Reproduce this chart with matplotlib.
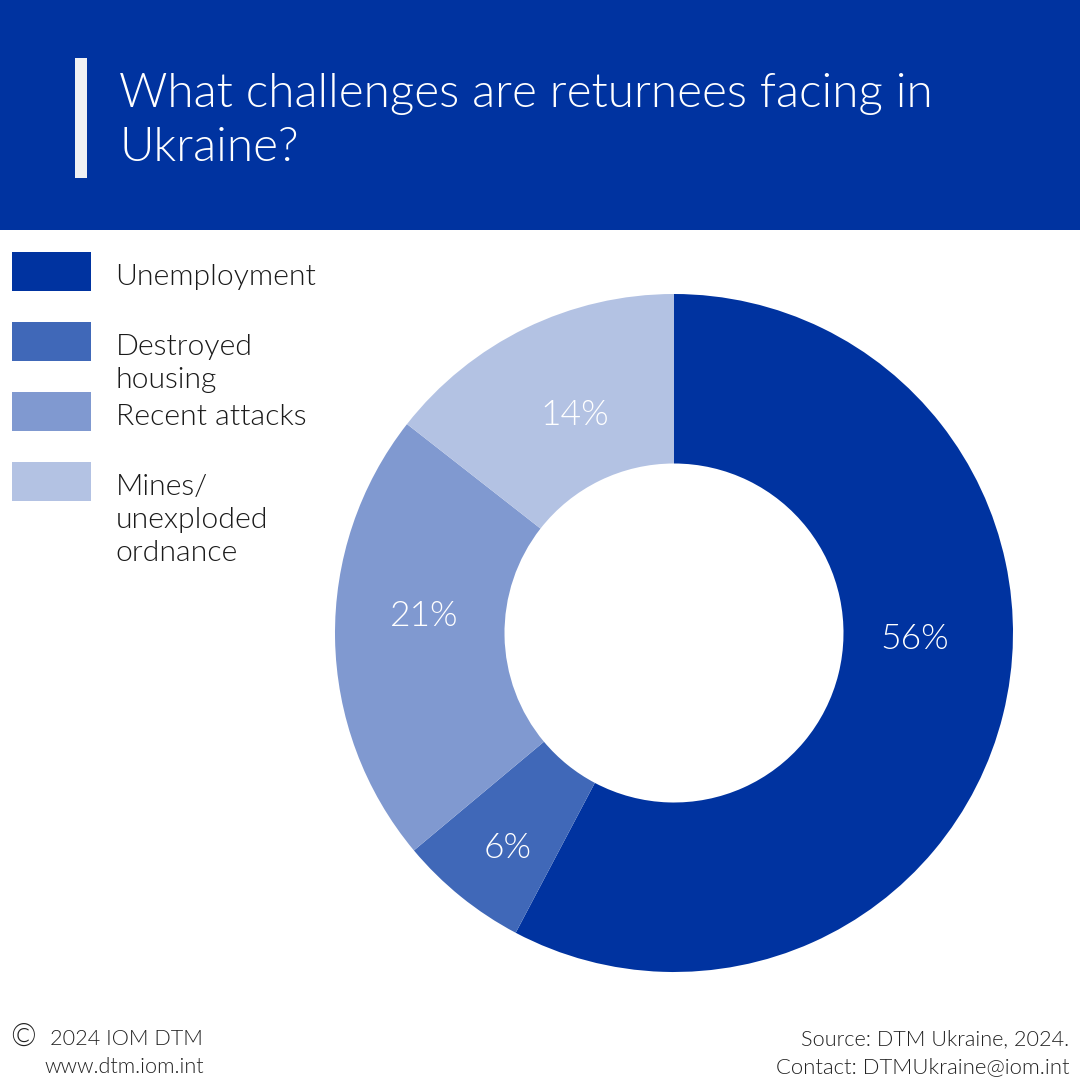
import matplotlib
matplotlib.use('Agg')
import matplotlib.pyplot as plt
from matplotlib import font_manager as fm
from matplotlib.patches import Rectangle

labels = [['Unemployment'], ['Destroyed', 'housing'], ['Recent attacks'],
          ['Mines/', 'unexploded', 'ordnance']]
values = [56, 6, 21, 14]
pct_labels = ['56%', '6%', '21%', '14%']
colors = ['#0033A0', '#4068B8', '#8099D0', '#B3C2E3']
title_lines = ['What challenges are returnees facing in', 'Ukraine?']
legend_y = [252, 322, 392, 462]

# weight='light' picks Lato Hairline, so look for the Light file directly
light_files = [f.fname for f in fm.fontManager.ttflist
               if f.name == 'Lato' and f.style == 'normal'
               and f.fname.endswith('Lato-Light.ttf')]
if light_files:
    def lf(size):
        return fm.FontProperties(fname=light_files[0], size=size)
else:
    def lf(size):
        return fm.FontProperties(family='Lato', size=size)

fig = plt.figure(figsize=(10.8, 10.8), dpi=100)

# whole figure in pixel coordinates, y going down
bg = fig.add_axes([0, 0, 1, 1])
bg.set_xlim(0, 1080)
bg.set_ylim(1080, 0)
bg.axis('off')

bg.add_patch(Rectangle((0, 0), 1080, 230, color='#0033A0', lw=0))
bg.add_patch(Rectangle((75, 58), 12, 120, color='#EFF1F4', lw=0))
for i, line in enumerate(title_lines):
    bg.text(119, 107 + i * 54, line, color='white', fontproperties=lf(34.3),
            va='baseline', ha='left')

for y, lab, col in zip(legend_y, labels, colors):
    bg.add_patch(Rectangle((12, y), 79, 39, color=col, lw=0))
    for i, line in enumerate(lab):
        bg.text(115.5, y + 33 + i * 33, line, fontproperties=lf(21.7), color='#1a1a1a',
                va='baseline', ha='left')

bg.text(23, 1037, '\u00a9', fontproperties=lf(22), color='#222222', va='center', ha='center')
bg.text(50, 1045, '2024 IOM DTM', fontproperties=lf(15.6), color='#222222', va='baseline')
bg.text(44, 1073, 'www.dtm.iom.int', fontproperties=lf(15.6), color='#222222', va='baseline')
bg.text(1069, 1045, 'Source: DTM Ukraine, 2024.', fontproperties=lf(15.6),
        color='#222222', va='baseline', ha='right')
bg.text(1069, 1073, 'Contact: DTMUkraine@iom.int', fontproperties=lf(15.9),
        color='#222222', va='baseline', ha='right')

# donut: center (674, 633), outer radius 339 px
ax = fig.add_axes([335 / 1080, 1 - 972 / 1080, 678 / 1080, 678 / 1080])
wedges, _ = ax.pie(values, colors=colors, startangle=90, counterclock=False, radius=1,
                   wedgeprops=dict(width=0.5, lw=0))
ax.set_xlim(-1, 1)
ax.set_ylim(-1, 1)
ax.axis('off')

pct_pos = [(915, 639), (508, 848), (424, 616), (575, 415)]
for (px, py), txt in zip(pct_pos, pct_labels):
    bg.text(px, py, txt, color='white', fontproperties=lf(25.5),
            va='center', ha='center', zorder=10)
bg.set_zorder(ax.get_zorder() + 1)
bg.patch.set_alpha(0)

fig.savefig('out.png', dpi=100)
